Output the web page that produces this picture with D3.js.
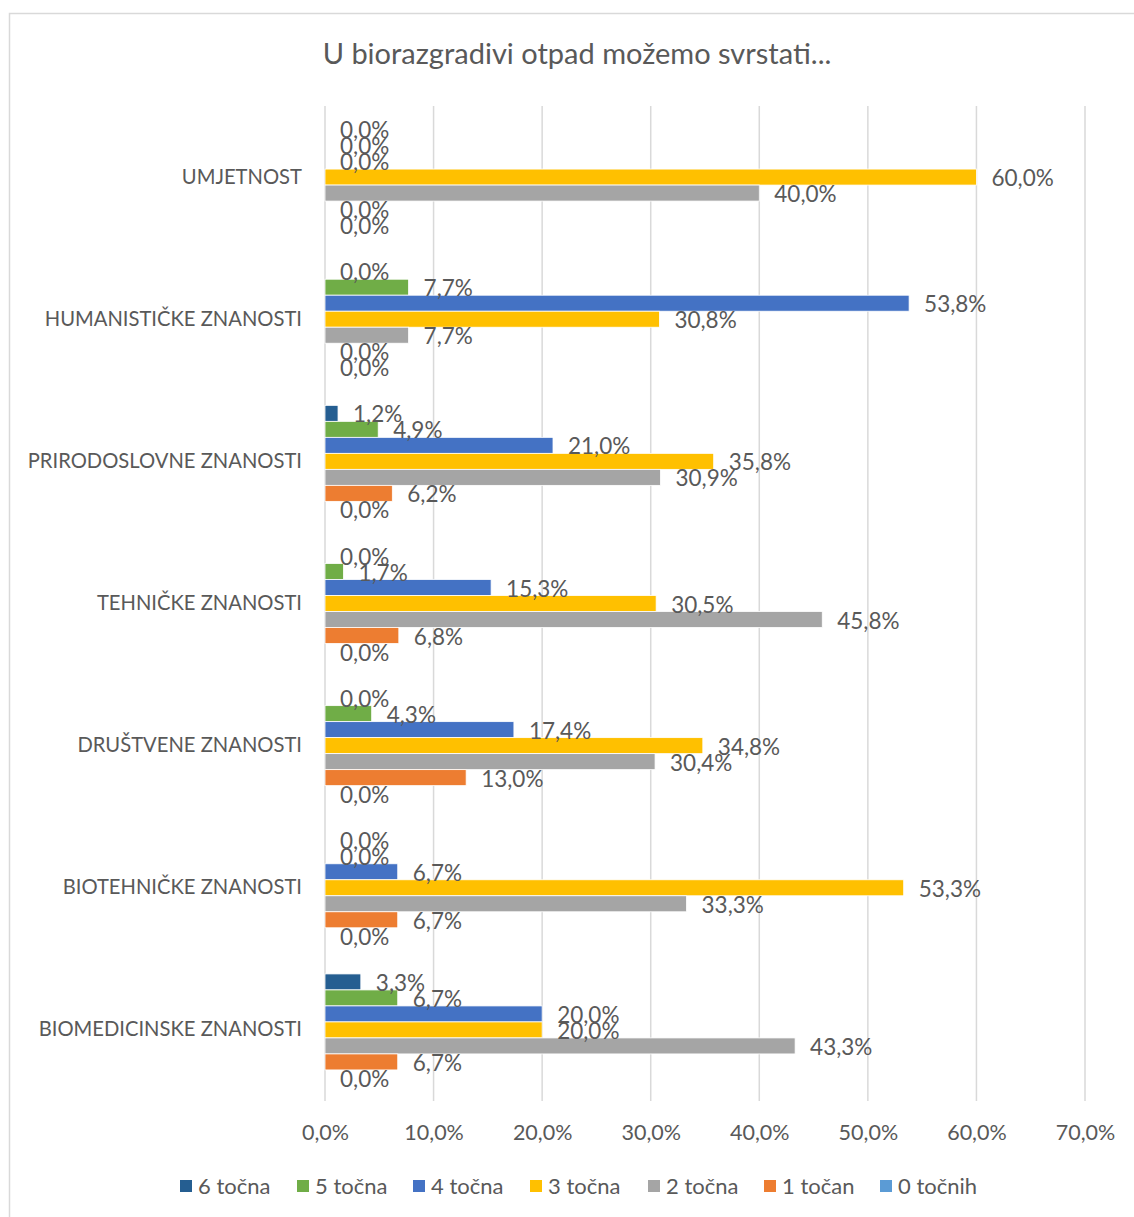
<!DOCTYPE html>
<html>
<head>
<meta charset="utf-8">
<script src="https://cdn.jsdelivr.net/npm/d3@7"></script>
<style>
  html, body { margin: 0; padding: 0; background: #fff; }
  svg { display: block; }
  text { font-family: Lato, "Open Sans", sans-serif; fill: #595959; }
</style>
</head>
<body>
<svg id="chart" width="1134" height="1217"></svg>
<script>
const categories = ["UMJETNOST", "HUMANISTIČKE ZNANOSTI", "PRIRODOSLOVNE ZNANOSTI", "TEHNIČKE ZNANOSTI", "DRUŠTVENE ZNANOSTI", "BIOTEHNIČKE ZNANOSTI", "BIOMEDICINSKE ZNANOSTI"];
const seriesNames = ["6 točna", "5 točna", "4 točna", "3 točna", "2 točna", "1 točan", "0 točnih"];
const seriesColors = ["#255E91", "#70AD47", "#4472C4", "#FFC000", "#A5A5A5", "#ED7D31", "#5B9BD5"];
// values per series, in category order above (percent)
const s6 = [0, 0, 1.2, 0, 0, 0, 3.3];
const s5 = [0, 7.7, 4.9, 1.7, 4.3, 0, 6.7];
const s4 = [0, 53.8, 21.0, 15.3, 17.4, 6.7, 20.0];
const s3 = [60.0, 30.8, 35.8, 30.5, 34.8, 53.3, 20.0];
const s2 = [40.0, 7.7, 30.9, 45.8, 30.4, 33.3, 43.3];
const s1 = [0, 0, 6.2, 6.8, 13.0, 6.7, 6.7];
const s0 = [0, 0, 0, 0, 0, 0, 0];
const seriesValues = [s6, s5, s4, s3, s2, s1, s0];
const xTicks = [0, 10, 20, 30, 40, 50, 60, 70];
const title = "U biorazgradivi otpad možemo svrstati...";

const fmt = v => v.toFixed(1).replace(".", ",") + "%";

const svg = d3.select("#chart");

// outer frame
svg.append("rect").attr("x", 9.5).attr("y", 13.5).attr("width", 1140).attr("height", 1220)
  .attr("fill", "none").attr("stroke", "#d9d9d9").attr("stroke-width", 1.5);

const pLeft = 325, pRight = 1085, pTop = 106, pBottom = 1101;

const x = d3.scaleLinear().domain([0, 70]).range([pLeft, pRight]);
const y = d3.scaleBand().domain(categories).range([pTop, pBottom]).paddingInner(0.212).paddingOuter(0.106);
const ys = d3.scaleBand().domain(seriesNames).range([0, y.bandwidth()]);

// gridlines
svg.append("g").selectAll("line").data(xTicks).join("line")
  .attr("x1", d => x(d)).attr("x2", d => x(d))
  .attr("y1", pTop).attr("y2", pBottom)
  .attr("stroke", "#d9d9d9").attr("stroke-width", 1.5);

// x tick labels
const xAxis = d3.axisBottom(x).tickValues(xTicks).tickSize(0).tickPadding(0).tickFormat(d => fmt(d));
const gx = svg.append("g").attr("transform", `translate(0, ${pBottom + 24})`).call(xAxis);
gx.select(".domain").remove();
gx.selectAll("text").attr("font-size", 21.5).attr("fill", "#595959").style("font-family", "Lato, sans-serif");

// category labels
const yAxis = d3.axisLeft(y).tickSize(0).tickPadding(23);
const gy = svg.append("g").attr("transform", `translate(${pLeft}, 0)`).call(yAxis);
gy.select(".domain").remove();
gy.selectAll("text").attr("font-size", 20.2).attr("fill", "#595959").style("font-family", "Lato, sans-serif");

// bars
const groups = svg.append("g").selectAll("g").data(categories).join("g")
  .attr("transform", c => `translate(0, ${y(c)})`);

groups.each(function(c, ci) {
  const g = d3.select(this);
  seriesNames.forEach((s, si) => {
    const v = seriesValues[si][ci];
    g.append("rect")
      .attr("x", x(0)).attr("y", ys(s))
      .attr("width", x(v) - x(0)).attr("height", ys.bandwidth())
      .attr("fill", seriesColors[si]).attr("stroke", "#fff").attr("stroke-width", 0.8);
  });
});
groups.each(function(c, ci) {
  const g = d3.select(this);
  seriesNames.forEach((s, si) => {
    const v = seriesValues[si][ci];
    g.append("text")
      .attr("x", x(v) + 15).attr("y", ys(s) + ys.bandwidth() / 2 + 1)
      .attr("dy", "0.36em").attr("font-size", 22.5)
      .text(fmt(v));
  });
});

// title
svg.append("text").attr("x", 577).attr("y", 64).attr("text-anchor", "middle")
  .attr("font-size", 29).text(title);

// legend
const legendX = [180, 297, 413, 530, 648, 764, 880];
const lg = svg.append("g").selectAll("g").data(seriesNames).join("g")
  .attr("transform", (d, i) => `translate(${legendX[i]}, 1186)`);
lg.append("rect").attr("x", 0).attr("y", -6).attr("width", 12).attr("height", 12)
  .attr("fill", (d, i) => seriesColors[i]);
lg.append("text").attr("x", 18).attr("dy", "0.36em").attr("font-size", 22).text(d => d);
</script>
</body>
</html>
